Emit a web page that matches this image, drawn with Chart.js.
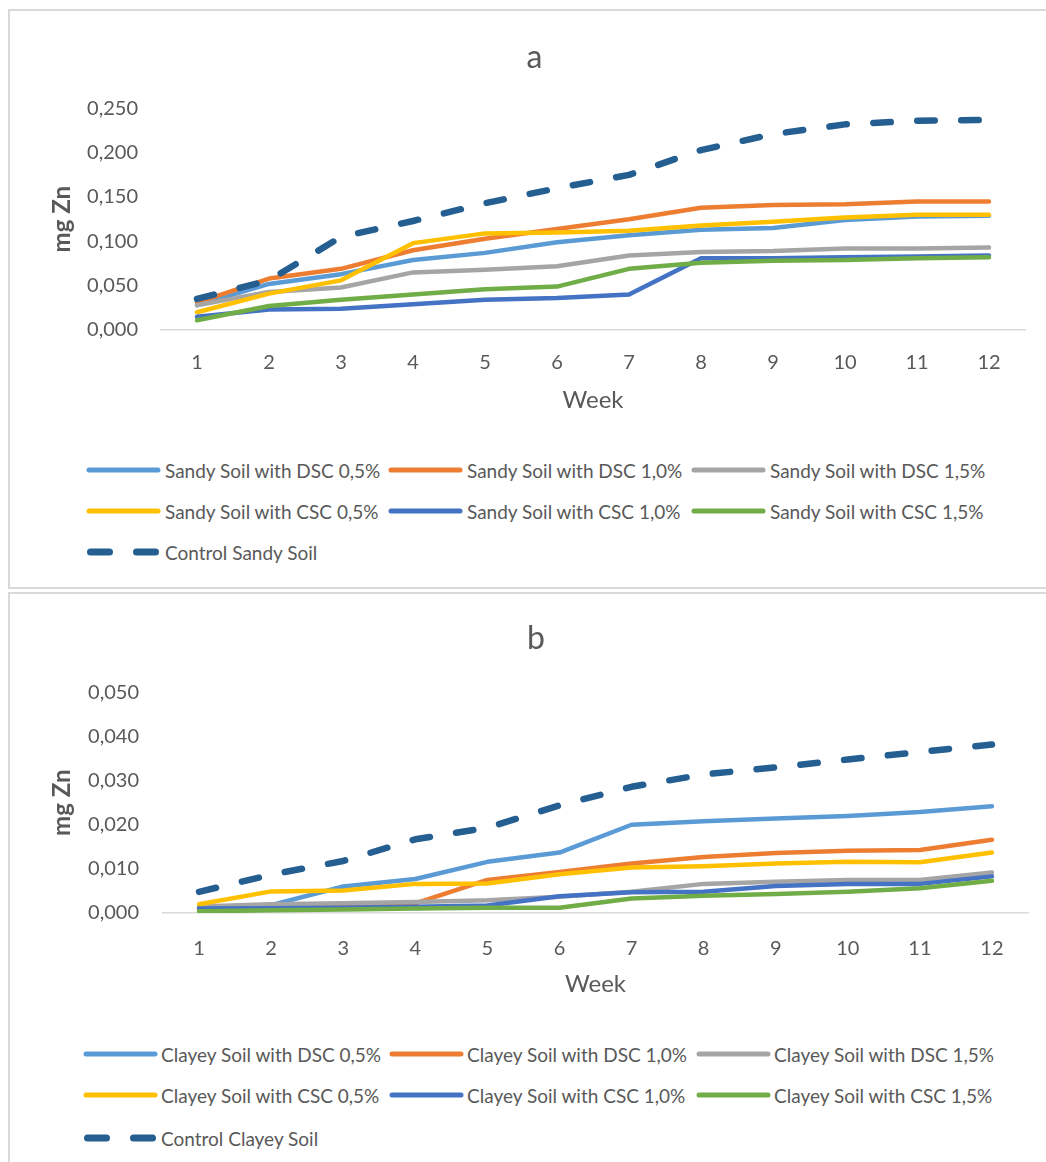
<!DOCTYPE html>
<html>
<head>
<meta charset="utf-8">
<script src="https://cdn.jsdelivr.net/npm/chart.js@4/dist/chart.umd.min.js"></script>
<style>
  body { margin: 0; background: #fff; width: 1046px; height: 1162px; overflow: hidden; position: relative; font-family: Lato, sans-serif; }
  .box { position: absolute; border: 2px solid #d9d9d9; box-sizing: border-box; background: #fff; }
  canvas { position: absolute; left: 0; }
  .legend { position: absolute; color: #595959; font-size: 19px; }
  .item { position: absolute; height: 20px; display: flex; align-items: center; white-space: nowrap; }
  .item svg { flex: none; }
</style>
</head>
<body>
<div class="box" style="left:8px; top:9px; width:1060px; height:580px;"></div>
<div class="box" style="left:8px; top:592px; width:1060px; height:600px;"></div>
<canvas id="chartA" width="1046" height="430" style="top:0;"></canvas>
<canvas id="chartB" width="1046" height="430" style="top:585px;"></canvas>
<div id="legendA" class="legend"></div>
<div id="legendB" class="legend"></div>
<script>
// Semaines
const weeks = ['1', '2', '3', '4', '5', '6', '7', '8', '9', '10', '11', '12'];

// a - sol sableux (mg Zn)
const sandyDsc05 = [0.028, 0.052, 0.063, 0.079, 0.087, 0.099, 0.107, 0.113, 0.115, 0.124, 0.128, 0.129];
const sandyDsc10 = [0.031, 0.058, 0.069, 0.090, 0.103, 0.114, 0.125, 0.138, 0.141, 0.142, 0.145, 0.145];
const sandyDsc15 = [0.028, 0.043, 0.048, 0.065, 0.068, 0.072, 0.084, 0.088, 0.089, 0.092, 0.092, 0.093];
const sandyCsc05 = [0.020, 0.041, 0.056, 0.098, 0.109, 0.110, 0.112, 0.118, 0.122, 0.127, 0.130, 0.130];
const sandyCsc10 = [0.015, 0.023, 0.024, 0.029, 0.034, 0.036, 0.040, 0.081, 0.081, 0.082, 0.083, 0.084];
const sandyCsc15 = [0.011, 0.027, 0.034, 0.040, 0.046, 0.049, 0.069, 0.076, 0.078, 0.079, 0.081, 0.082];
const sandyControl = [0.035, 0.056, 0.105, 0.123, 0.143, 0.160, 0.175, 0.203, 0.221, 0.232, 0.236, 0.237];
const ticksA = ['0,000', '0,050', '0,100', '0,150', '0,200', '0,250'];

// b - sol argileux (mg Zn)
const clayDsc05 = [0.0012, 0.0018, 0.0060, 0.0077, 0.0116, 0.0137, 0.0200, 0.0208, 0.0214, 0.0220, 0.0229, 0.0242];
const clayDsc10 = [0.0010, 0.0012, 0.0015, 0.0022, 0.0075, 0.0093, 0.0112, 0.0127, 0.0136, 0.0141, 0.0143, 0.0166];
const clayDsc15 = [0.0015, 0.0020, 0.0022, 0.0025, 0.0029, 0.0037, 0.0048, 0.0066, 0.0071, 0.0075, 0.0075, 0.0092];
const clayCsc05 = [0.0020, 0.0049, 0.0051, 0.0066, 0.0067, 0.0088, 0.0103, 0.0106, 0.0112, 0.0116, 0.0115, 0.0137];
const clayCsc10 = [0.0010, 0.0011, 0.0012, 0.0014, 0.0017, 0.0038, 0.0047, 0.0048, 0.0061, 0.0066, 0.0066, 0.0083];
const clayCsc15 = [0.0004, 0.0006, 0.0008, 0.0010, 0.0012, 0.0012, 0.0033, 0.0039, 0.0043, 0.0048, 0.0056, 0.0073];
const clayControl = [0.0048, 0.0087, 0.0118, 0.0167, 0.0193, 0.0244, 0.0286, 0.0314, 0.0330, 0.0348, 0.0365, 0.0382];
const ticksB = ['0,000', '0,010', '0,020', '0,030', '0,040', '0,050'];

const seriesColors = ['#5B9BD5', '#ED7D31', '#A5A5A5', '#FFC000', '#4472C4', '#70AD47', '#255E91'];
const textColor = '#595959';

function buildDatasets(names, values) {
    return names.map((name, i) => {
        const control = i === names.length - 1;
        return {
            label: name,
            data: values[i],
            borderColor: seriesColors[i],
            backgroundColor: seriesColors[i],
            borderWidth: control ? 6.5 : 4.5,
            borderDash: control ? [17.5, 26.5] : [],
            borderCapStyle: 'round',
            borderJoinStyle: 'round',
            pointRadius: 0,
            tension: 0,
            order: names.length - i
        };
    });
}

function makeChart(id, title, datasets, yMax, yStep, tickLabels, lay) {
    const ctx = document.getElementById(id).getContext('2d');
    return new Chart(ctx, {
        type: 'line',
        data: { labels: weeks, datasets: datasets },
        options: {
            responsive: false,
            animation: false,
            layout: { padding: { left: lay.left, right: lay.right, top: 0, bottom: lay.bottom } },
            plugins: {
                legend: { display: false },
                tooltip: { enabled: false },
                title: {
                    display: true,
                    text: title,
                    color: textColor,
                    font: { family: 'Lato', size: 32, weight: 'normal' },
                    padding: { top: lay.titleTop, bottom: lay.titleBottom }
                }
            },
            scales: {
                x: {
                    offset: true,
                    grid: { display: false, drawTicks: false },
                    border: { display: true, color: '#d9d9d9', width: 1.5 },
                    ticks: { color: textColor, padding: lay.xPad, font: { family: 'Lato', size: 20 } },
                    title: { display: true, text: 'Week', color: textColor, font: { family: 'Lato', size: 24 } },
                    afterFit: s => { s.height = lay.xHeight; }
                },
                y: {
                    min: 0,
                    max: yMax,
                    grid: { display: false, drawTicks: false },
                    border: { display: false },
                    ticks: {
                        stepSize: yStep,
                        color: textColor,
                        padding: lay.yPad,
                        font: { family: 'Lato', size: 20 },
                        callback: (v, i) => tickLabels[i]
                    },
                    title: { display: true, text: 'mg Zn', color: textColor, font: { family: 'Lato', size: 24, weight: 'bold' } },
                    afterFit: s => { s.width = lay.yWidth; }
                }
            }
        }
    });
}

// Légende en grille (3 colonnes) comme dans Excel
function buildLegend(id, chart, pos) {
    const box = document.getElementById(id);
    chart.data.datasets.forEach((ds, i) => {
        const col = i === 6 ? 0 : i % 3;
        const row = i === 6 ? 2 : Math.floor(i / 3);
        const item = document.createElement('div');
        item.className = 'item';
        item.style.left = (pos.cols[col]) + 'px';
        item.style.top = (pos.rows[row] - 10) + 'px';
        const dashed = ds.borderDash.length > 0;
        const w = dashed ? 7 : 5;
        const dash = dashed ? ' stroke-dasharray="19 27"' : '';
        item.innerHTML =
            '<svg width="' + pos.sample + '" height="12"><line x1="' + (dashed ? 4.5 : 3) + '" y1="6" x2="' + (pos.sample - 3) +
            '" y2="6" stroke="' + ds.borderColor + '" stroke-width="' + w + '" stroke-linecap="round"' + dash + '/></svg>' +
            '<span style="margin-left:' + pos.gap + 'px">' + ds.label + '</span>';
        box.appendChild(item);
    });
}

const sandyNames = ['Sandy Soil with DSC 0,5%', 'Sandy Soil with DSC 1,0%', 'Sandy Soil with DSC 1,5%',
    'Sandy Soil with CSC 0,5%', 'Sandy Soil with CSC 1,0%', 'Sandy Soil with CSC 1,5%', 'Control Sandy Soil'];
const clayNames = ['Clayey Soil with DSC 0,5%', 'Clayey Soil with DSC 1,0%', 'Clayey Soil with DSC 1,5%',
    'Clayey Soil with CSC 0,5%', 'Clayey Soil with CSC 1,0%', 'Clayey Soil with CSC 1,5%', 'Control Clayey Soil'];

const chartA = makeChart('chartA', 'a',
    buildDatasets(sandyNames, [sandyDsc05, sandyDsc10, sandyDsc15, sandyCsc05, sandyCsc10, sandyCsc15, sandyControl]),
    0.25, 0.05, ticksA,
    { left: 44, right: 21, bottom: 11, titleTop: 38, titleBottom: 32, xPad: 21, xHeight: 89, yPad: 23, yWidth: 117 });

const chartB = makeChart('chartB', 'b',
    buildDatasets(clayNames, [clayDsc05, clayDsc10, clayDsc15, clayCsc05, clayCsc10, clayCsc15, clayControl]),
    0.05, 0.01, ticksB,
    { left: 44, right: 18, bottom: 12, titleTop: 34, titleBottom: 35, xPad: 24, xHeight: 90, yPad: 24, yWidth: 119 });

buildLegend('legendA', chartA, { cols: [86, 388, 691], rows: [470, 511, 552], sample: 75, gap: 4 });
buildLegend('legendB', chartB, { cols: [83, 389, 696], rows: [1054, 1095, 1138], sample: 75, gap: 3 });
</script>
</body>
</html>
